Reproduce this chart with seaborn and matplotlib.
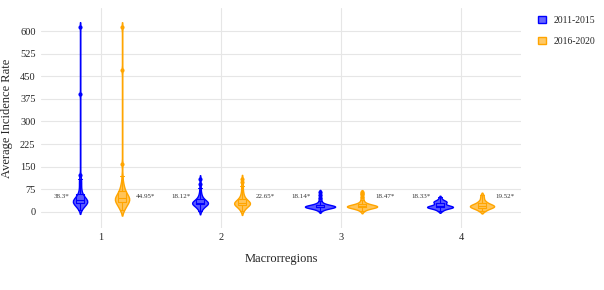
import numpy as np
import pandas as pd
import seaborn as sns
import matplotlib.pyplot as plt
from matplotlib.patches import Patch
from matplotlib.colors import to_rgba

# Categories
regions = ['1', '2', '3', '4']
periods = ['2011-2015', '2016-2020']
colors = ['#0000FF', '#FFA500']

# Incidence rates per macroregion, 2011-2015
r1_a = [8, 12, 15, 18, 20, 22, 24, 25, 26, 28, 29, 30, 31, 32, 33, 34, 35, 35, 36, 37, 38, 39,
        40, 41, 42, 43, 45, 46, 48, 50, 52, 55, 58, 62, 66, 72, 80, 88, 96, 104, 110, 124, 390, 615]
r2_a = [4, 9, 13, 16, 18, 20, 22, 24, 25, 26, 27, 28, 28, 29, 30, 30, 31, 32, 33, 34, 35, 36,
        38, 40, 42, 45, 48, 52, 58, 66, 78, 92, 110]
r3_a = [4, 8, 10, 12, 13, 14, 15, 15, 16, 16, 17, 17, 17, 18, 18, 18, 19, 19, 20, 20, 21, 22,
        23, 24, 26, 28, 32, 38, 46, 56, 66]
r4_a = [3, 6, 9, 11, 12, 13, 14, 15, 15, 16, 16, 17, 17, 18, 18, 19, 20, 21, 22, 24, 26, 28,
        30, 32, 33, 34, 35, 36, 38, 42, 48]

# Incidence rates per macroregion, 2016-2020
r1_b = [5, 10, 14, 18, 21, 24, 27, 29, 31, 33, 35, 37, 38, 40, 41, 42, 44, 45, 46, 48, 50, 52,
        54, 56, 58, 61, 64, 68, 72, 76, 82, 90, 98, 120, 160, 470, 612]
r2_b = [3, 8, 12, 15, 18, 20, 22, 23, 24, 25, 26, 27, 28, 29, 30, 30, 31, 32, 33, 35, 36, 38,
        40, 43, 46, 50, 55, 62, 72, 85, 98, 110]
r3_b = [3, 7, 10, 12, 13, 14, 15, 16, 16, 17, 17, 18, 18, 18, 19, 19, 20, 20, 21, 22, 23, 24,
        25, 27, 30, 34, 40, 48, 58, 65]
r4_b = [2, 5, 8, 10, 12, 13, 14, 15, 16, 17, 18, 19, 19, 20, 21, 22, 23, 24, 25, 26, 28, 30,
        32, 35, 38, 44, 50, 57]

# Annotations beside each violin
labels_a = ['38.3*', '18.12*', '18.14*', '18.33*']
labels_b = ['44.95*', '22.65*', '18.47*', '19.52*']

# Long-format table
rows = []
for reg, a, b in zip(regions, [r1_a, r2_a, r3_a, r4_a], [r1_b, r2_b, r3_b, r4_b]):
    rows += [(reg, periods[0], v) for v in a]
    rows += [(reg, periods[1], v) for v in b]
df = pd.DataFrame(rows, columns=['Region', 'Period', 'Rate'])

sns.set_style('whitegrid')
plt.rcParams['font.family'] = ['Liberation Serif', 'DejaVu Serif']

fig = plt.figure(figsize=(6.04, 2.9), dpi=100)
ax = fig.add_axes([0.068, 0.214, 0.7946, 0.758])

common = dict(x='Region', y='Rate', hue='Period', order=regions, hue_order=periods,
              palette=colors, width=0.7, saturation=1, legend=False, ax=ax)

# Violins: region 1 has long tails, so it gets its own bandwidth
sns.violinplot(data=df[df.Region == '1'], inner=None, density_norm='area', bw_adjust=0.2,
               gap=0.66, cut=1.5, linewidth=1, **common)
sns.violinplot(data=df[df.Region != '1'], inner=None, density_norm='area', bw_adjust=0.7,
               gap=0.28, cut=1.5, linewidth=1, **common)

for coll in ax.collections:
    fc = to_rgba(coll.get_facecolor()[0])
    coll.set_edgecolor(fc[:3] + (1,))
    coll.set_facecolor(fc[:3] + (0.65,))

# Inner boxes with outlier points
sns.boxplot(data=df, fill=False, gap=0.8, linewidth=0.8, fliersize=2, whis=2.2,
            flierprops=dict(marker='o'), **common)
for line in ax.lines:
    if line.get_marker() == 'o':
        line.set_markerfacecolor(line.get_markeredgecolor())

for i, (la, lb) in enumerate(zip(labels_a, labels_b)):
    ax.text(i - 0.33, 50, la, ha='center', va='center', fontsize=5, color='#333333')
    ax.text(i + 0.37, 50, lb, ha='center', va='center', fontsize=5, color='#333333')

ax.set_xlim(-0.5, 3.5)
ax.set_ylim(-53, 676)
ax.set_yticks(range(0, 601, 75))
ax.xaxis.grid(True)
ax.grid(color='#e6e6e6', linewidth=0.8)
ax.tick_params(labelsize=7.5, length=0, pad=4)
ax.set_xlabel('Macrorregions', fontsize=9)
ax.set_ylabel('Average Incidence Rate', fontsize=9)
ax.yaxis.set_label_coords(-0.058, 0.5)
ax.xaxis.set_label_coords(0.5, -0.115)
sns.despine(ax=ax, left=True, bottom=True)

handles = [Patch(facecolor=to_rgba(c, 0.6), edgecolor=c, linewidth=1) for c in colors]
fig.legend(handles, periods, loc='upper left', bbox_to_anchor=(0.876, 0.975), frameon=False,
           fontsize=7, handlelength=0.8, handleheight=0.8, labelspacing=1.2, handletextpad=0.8)

fig.savefig('out.png', dpi=100)
